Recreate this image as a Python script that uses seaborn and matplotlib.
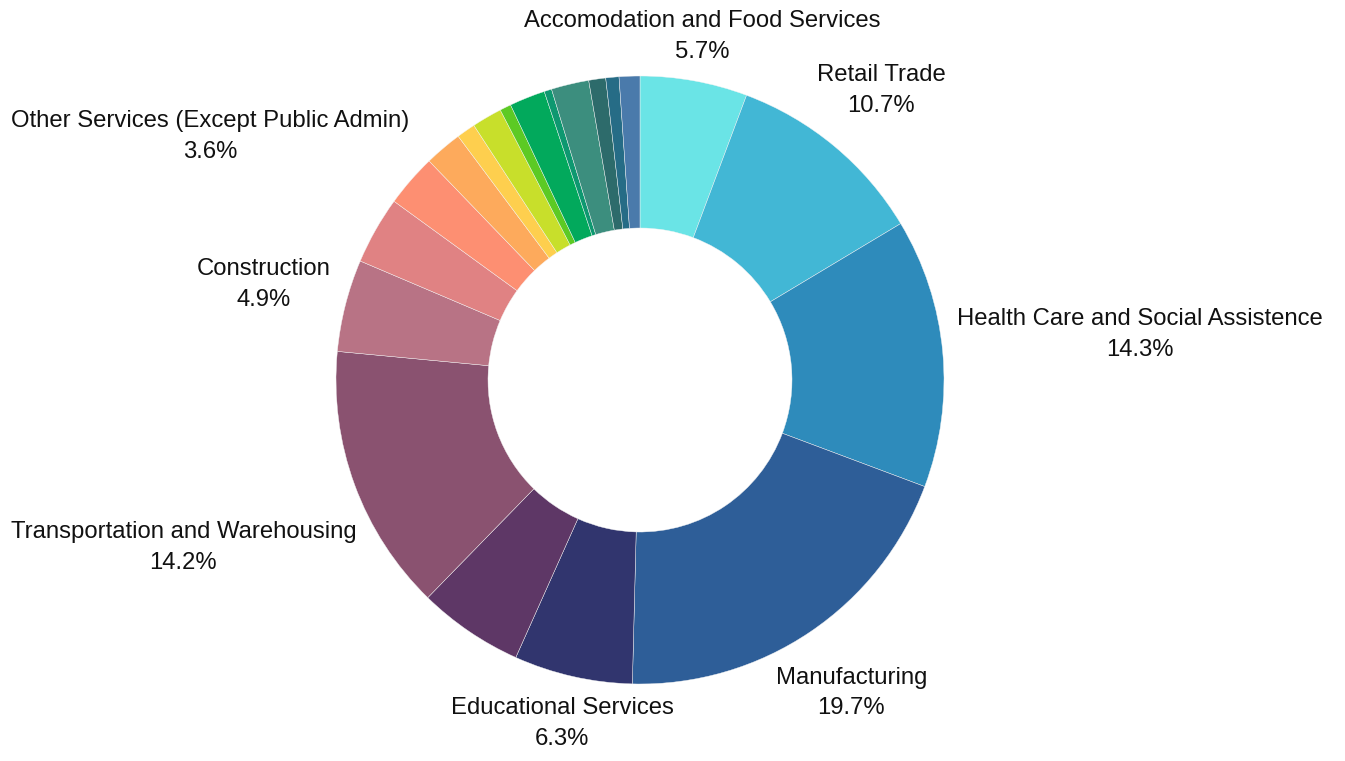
import numpy as np
import matplotlib
matplotlib.use('Agg')
import matplotlib.pyplot as plt
import seaborn as sns

# -------data (clockwise from 12 o'clock)-------#
sectors = ['Accomodation and Food Services', 'Retail Trade', 'Health Care and Social Assistence',
           'Manufacturing', 'Educational Services', 'Finance and Insurance',
           'Transportation and Warehousing', 'Construction', 'Other Services (Except Public Admin)',
           'Professional Services', 'Public Administration', 'Wholesale Trade', 'Information',
           'Utilities', 'Real Estate', 'Mining', 'Administrative Support', 'Arts and Recreation',
           'Agriculture', 'Management of Companies']
shares = [5.7, 10.7, 14.3, 19.7, 6.3, 5.6, 14.2, 4.9, 3.6,
          2.8, 2.0, 1.0, 1.6, 0.6, 1.9, 0.4, 2.0, 0.9, 0.7, 1.1]
show_label = [True, True, True, True, True, False, True, True, True,
              False, False, False, False, False, False, False, False, False, False, False]
colors = ['#6ae4e6', '#42b7d5', '#2e8bbb', '#2e5e98', '#31356e', '#5e3766', '#8a5270',
          '#b87385', '#e08283', '#fd8f72', '#fdaa5c', '#fecf4e', '#c8df2b', '#5cca24',
          '#02a95c', '#0e9870', '#3c8e7e', '#2d6b6b', '#266c86', '#4a7aab']

sns.set_theme(style='white')
plt.rcParams['font.family'] = ['Liberation Sans', 'DejaVu Sans']

W, H = 1345, 761
cx, cy, R = 640, 381, 304   # pie centre / radius in pixels
fig = plt.figure(figsize=(W / 100, H / 100), dpi=100)
ax = fig.add_axes([0, 0, 1, 1])

wedges, _ = ax.pie(shares, colors=colors, startangle=90, counterclock=False, radius=1,
                   wedgeprops=dict(width=0.5, edgecolor='#f4f4f4', linewidth=0.3))
ax.set_aspect('auto')
ax.set_xlim(-cx / R, (W - cx) / R)
ax.set_ylim(-cy / R, (H - cy) / R)
ax.axis('off')

total = sum(shares)
texts = []
for w, name, v, show in zip(wedges, sectors, shares, show_label):
    if not show:
        continue
    t = ax.text(0, 0, f'{name}\n{100 * v / total:.1f}%', ha='center', va='center',
                fontsize=17.2, color='#111111', linespacing=1.5)
    texts.append((w, t))

# push each label out along the wedge's mid-angle until it clears the ring
fig.canvas.draw()
renderer = fig.canvas.get_renderer()
gap = 1 + 13 / R
for w, t in texts:
    bb = t.get_window_extent(renderer)
    hw, hh = bb.width / 2 / R, bb.height / 2 / R
    ang = np.deg2rad((w.theta1 + w.theta2) / 2)
    ux, uy = np.cos(ang), np.sin(ang)
    s = 1.0
    while True:
        px, py = s * ux, s * uy
        d = np.hypot(max(abs(px) - hw, 0), max(abs(py) - hh, 0))
        if d >= gap:
            break
        s += 0.002
    t.set_position((px, py))

fig.savefig('out.png', dpi=100)
